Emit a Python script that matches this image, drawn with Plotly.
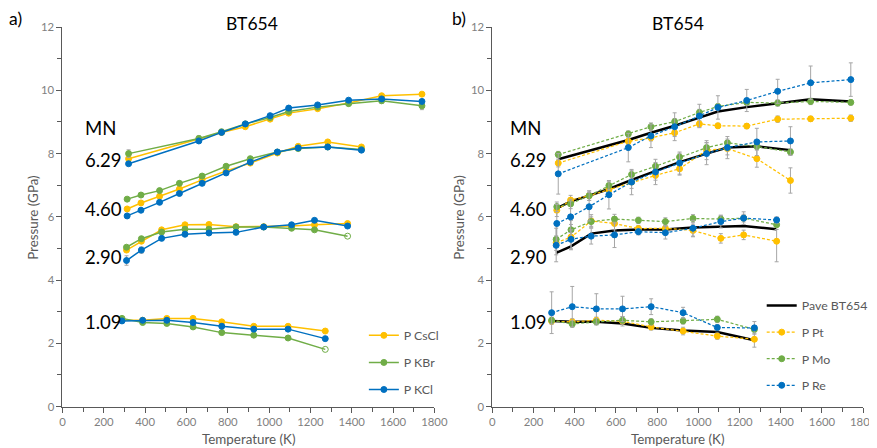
import plotly.graph_objects as go

# ---------------- data ----------------
T1 = [320, 660, 770, 885, 1005, 1095, 1235, 1385, 1545, 1740]
T2 = [313, 380, 470, 566, 676, 792, 909, 1040, 1141, 1284, 1447]
T3 = [310, 382, 480, 593, 709, 840, 974, 1109, 1220, 1380]
T4 = [288, 388, 505, 632, 771, 926, 1092, 1272]

MN_LABELS = ["MN", "6.29", "4.60", "2.90", "1.09"]

# panel a) pressure-medium salts
CSCL_1 = [7.84, 8.45, 8.67, 8.85, 9.09, 9.28, 9.42, 9.60, 9.83, 9.88]
KBR_1 = [8.00, 8.48, 8.69, 8.94, 9.14, 9.33, 9.47, 9.58, 9.67, 9.51]
KCL_1 = [7.68, 8.40, 8.67, 8.94, 9.20, 9.44, 9.54, 9.69, 9.73, 9.65]

CSCL_2 = [6.25, 6.44, 6.65, 6.88, 7.17, 7.45, 7.70, 8.02, 8.23, 8.37, 8.21]
KBR_2 = [6.56, 6.69, 6.83, 7.06, 7.29, 7.60, 7.84, 8.05, 8.16, 8.21, 8.13]
KCL_2 = [6.03, 6.21, 6.46, 6.74, 7.06, 7.39, 7.73, 8.05, 8.18, 8.21, 8.11]

CSCL_3 = [4.95, 5.23, 5.59, 5.75, 5.76, 5.69, 5.69, 5.71, 5.75, 5.79]
KBR_3 = [5.04, 5.31, 5.52, 5.61, 5.61, 5.68, 5.68, 5.64, 5.59, 5.39]
KCL_3 = [4.62, 4.95, 5.32, 5.45, 5.49, 5.51, 5.68, 5.75, 5.89, 5.71]

CSCL_4 = [2.73, 2.73, 2.79, 2.79, 2.68, 2.54, 2.54, 2.39]
KBR_4 = [2.79, 2.66, 2.63, 2.52, 2.34, 2.26, 2.17, 1.81]
KCL_4 = [2.71, 2.73, 2.73, 2.66, 2.54, 2.45, 2.45, 2.15]

ERR_KBR_1 = [0.12, 0.08, 0.08, 0.05, 0.05, 0.05, 0.05, 0.05, 0.08, 0.12]
ERR_KCL_3 = [0.15, 0.1, 0.05, 0.05, 0.05, 0.05, 0.05, 0.05, 0.05, 0.05]

# panel b) markers
PAVE_1 = [7.82, 8.43, 8.66, 8.88, 9.14, 9.33, 9.47, 9.60, 9.72, 9.65]
PT_1 = [7.70, 8.39, 8.50, 8.66, 8.94, 8.88, 8.87, 9.09, 9.10, 9.12]
MO_1 = [7.97, 8.62, 8.85, 9.01, 9.30, 9.49, 9.62, 9.60, 9.65, 9.62]
RE_1 = [7.36, 8.19, 8.56, 8.85, 9.19, 9.46, 9.68, 9.97, 10.24, 10.34]

PAVE_2 = [6.27, 6.49, 6.67, 6.88, 7.17, 7.44, 7.73, 8.00, 8.19, 8.23, 8.11]
PT_2 = [6.21, 6.53, 6.67, 6.86, 7.10, 7.31, 7.52, 8.11, 8.16, 7.84, 7.15]
MO_2 = [6.32, 6.41, 6.67, 6.99, 7.34, 7.60, 7.89, 8.19, 8.34, 8.23, 8.05]
RE_2 = [5.79, 6.00, 6.32, 6.70, 7.10, 7.42, 7.70, 8.00, 8.19, 8.37, 8.40]

PAVE_3 = [4.86, 5.07, 5.47, 5.57, 5.60, 5.60, 5.66, 5.68, 5.71, 5.61]
PT_3 = [5.18, 5.36, 5.87, 5.79, 5.63, 5.64, 5.57, 5.32, 5.43, 5.23]
MO_3 = [5.29, 5.59, 5.85, 5.93, 5.89, 5.85, 5.95, 5.93, 5.96, 5.75]
RE_3 = [5.10, 5.29, 5.39, 5.43, 5.53, 5.50, 5.64, 5.85, 5.96, 5.90]

PAVE_4 = [2.71, 2.68, 2.68, 2.63, 2.49, 2.41, 2.36, 2.10]
PT_4 = [2.70, 2.68, 2.73, 2.70, 2.52, 2.39, 2.23, 2.13]
MO_4 = [2.73, 2.61, 2.68, 2.73, 2.68, 2.71, 2.76, 2.44]
RE_4 = [2.97, 3.16, 3.09, 3.09, 3.16, 2.97, 2.50, 2.49]

ERR_RE_1 = [0.64, 0.45, 0.37, 0.44, 0.37, 0.37, 0.35, 0.38, 0.53, 0.53]
ERR_PT_1 = [0.12, 0.10, 0.10, 0.12, 0.10, 0.08, 0.08, 0.10, 0.08, 0.10]
ERR_MO_1 = [0.10, 0.10, 0.12, 0.10, 0.10, 0.08, 0.08, 0.10, 0.10, 0.08]
ERR_RE_2 = [0.60, 0.50, 0.45, 0.45, 0.40, 0.40, 0.35, 0.35, 0.35, 0.43, 0.45]
ERR_PT_2 = [0.20, 0.15, 0.15, 0.15, 0.20, 0.15, 0.20, 0.30, 0.20, 0.27, 0.40]
ERR_MO_2 = [0.15, 0.15, 0.15, 0.12, 0.12, 0.12, 0.12, 0.15, 0.12, 0.10, 0.10]
ERR_RE_3 = [0.30, 0.30, 0.25, 0.40, 0.10, 0.20, 0.25, 0.20, 0.20, 0.10]
ERR_PT_3 = [0.60, 0.40, 0.20, 0.20, 0.10, 0.10, 0.20, 0.15, 0.15, 0.65]
ERR_MO_3 = [0.35, 0.30, 0.15, 0.15, 0.10, 0.12, 0.12, 0.12, 0.12, 0.15]
ERR_RE_4 = [0.66, 0.64, 0.48, 0.40, 0.25, 0.17, 0.10, 0.20]
ERR_PT_4 = [0.10, 0.10, 0.10, 0.15, 0.10, 0.12, 0.10, 0.25]
ERR_MO_4 = [0.10, 0.10, 0.10, 0.12, 0.10, 0.10, 0.10, 0.12]

# ---------------- style ----------------
W, H = 877, 448
# the photographed page shows the figure slightly offset and shrunk;
# layout positions below are given in photographed pixels and mapped back.
OX, SX = 10.0, 0.981
OY, SY = 16.0, 0.962
FS = 1.03  # font compensation for the shrink
FONT = "Lato"
YEL, GRN, BLU = "#FFC000", "#70AD47", "#0070C0"
ERRC = "#A6A6A6"


def px(x):
    return ((x - OX) / SX) / W


def py(y):
    return 1 - ((y - OY) / SY) / H


fig = go.Figure()


def add(xs, ys, color, name, panel, legend_show, err=None, dash=None,
        width=1.5, mode="lines+markers", open_last=False):
    xa, ya = ("x", "y") if panel == 1 else ("x2", "y2")
    sym = ["circle"] * len(xs)
    if open_last:
        sym[-1] = "circle-open"
    tr = dict(
        x=xs, y=ys, mode=mode, name=name, legendgroup=name,
        showlegend=legend_show, legend="legend" if panel == 1 else "legend2",
        xaxis=xa, yaxis=ya,
        line=dict(color=color, width=width, dash=dash),
        marker=dict(size=6, color=color, symbol=sym, line=dict(width=1, color=color)),
    )
    if err is not None:
        tr["error_y"] = dict(type="data", array=err, color=ERRC, thickness=1, width=2)
    fig.add_trace(go.Scatter(**tr))


Ts = [T1, T2, T3, T4]
# panel a
for i, (ys, T) in enumerate(zip([CSCL_1, CSCL_2, CSCL_3, CSCL_4], Ts)):
    add(T, ys, YEL, "P CsCl", 1, i == 0)
for i, (ys, T) in enumerate(zip([KBR_1, KBR_2, KBR_3, KBR_4], Ts)):
    add(T, ys, GRN, "P KBr", 1, i == 0, err=ERR_KBR_1 if i == 0 else None,
        open_last=(i >= 2))
for i, (ys, T) in enumerate(zip([KCL_1, KCL_2, KCL_3, KCL_4], Ts)):
    add(T, ys, BLU, "P KCl", 1, i == 0, err=ERR_KCL_3 if i == 2 else None)

# panel b
DASH = "3px,2px"
for i, (ys, T) in enumerate(zip([PAVE_1, PAVE_2, PAVE_3, PAVE_4], Ts)):
    add(T, ys, "#000000", "Pave BT654", 2, i == 0, width=2.5, mode="lines")
for i, (ys, T, e) in enumerate(zip([PT_1, PT_2, PT_3, PT_4], Ts,
                                   [ERR_PT_1, ERR_PT_2, ERR_PT_3, ERR_PT_4])):
    add(T, ys, YEL, "P Pt", 2, i == 0, err=e, dash=DASH, width=1.25)
for i, (ys, T, e) in enumerate(zip([MO_1, MO_2, MO_3, MO_4], Ts,
                                   [ERR_MO_1, ERR_MO_2, ERR_MO_3, ERR_MO_4])):
    add(T, ys, GRN, "P Mo", 2, i == 0, err=e, dash=DASH, width=1.25)
for i, (ys, T, e) in enumerate(zip([RE_1, RE_2, RE_3, RE_4], Ts,
                                   [ERR_RE_1, ERR_RE_2, ERR_RE_3, ERR_RE_4])):
    add(T, ys, BLU, "P Re", 2, i == 0, err=e, dash=DASH, width=1.25)

AXC = "#595959"
TICKF = dict(family=FONT, size=11 * FS, color="#7F7F7F")
xcommon = dict(range=[0, 1800], dtick=200, tick0=0, showgrid=False, zeroline=False,
               showline=True, linecolor=AXC, linewidth=1, ticks="outside",
               ticklen=5, tickcolor=AXC, tickfont=TICKF, fixedrange=True,
               minor=dict(dtick=100, ticks="outside", ticklen=4, tickcolor=AXC))
ycommon = dict(range=[0, 12], dtick=2, tick0=0, showgrid=False, zeroline=False,
               showline=True, linecolor=AXC, linewidth=1, ticks="outside",
               ticklen=5, tickcolor=AXC, tickfont=TICKF, fixedrange=True,
               minor=dict(dtick=1, ticks="outside", ticklen=4, tickcolor=AXC))

YD = [py(404), py(28)]
fig.update_layout(
    width=W, height=H,
    margin=dict(l=0, r=0, t=0, b=0),
    paper_bgcolor="white", plot_bgcolor="white",
    font=dict(family=FONT, color="#000000"),
    xaxis=dict(domain=[px(61.5), px(433.5)], anchor="y", **xcommon),
    yaxis=dict(domain=YD, anchor="x", **ycommon),
    xaxis2=dict(domain=[px(491.5), px(862.5)], anchor="y2", **xcommon),
    yaxis2=dict(domain=YD, anchor="x2", **ycommon),
    legend=dict(x=px(363), y=py(319), xanchor="left", yanchor="top",
                font=dict(family=FONT, size=12 * FS, color=AXC),
                bgcolor="rgba(0,0,0,0)", traceorder="grouped",
                tracegroupgap=8),
    legend2=dict(x=px(761), y=py(289.5), xanchor="left", yanchor="top",
                 font=dict(family=FONT, size=12 * FS, color=AXC),
                 bgcolor="rgba(0,0,0,0)", traceorder="grouped",
                 tracegroupgap=7.5),
    showlegend=True,
)

ann = []
# panel letters and titles
ann.append(dict(text="a)", x=px(15), y=py(19), font=dict(size=17)))
ann.append(dict(text="b)", x=px(458), y=py(19), font=dict(size=17)))
ann.append(dict(text="BT654", x=px(251), y=py(24), font=dict(size=17)))
ann.append(dict(text="BT654", x=px(677), y=py(24), font=dict(size=17)))
# axis titles
for xc in (248, 677):
    ann.append(dict(text="Temperature (K)", x=px(xc), y=py(436),
                    font=dict(size=13, color=AXC)))
for xc in (32, 458):
    ann.append(dict(text="Pressure (GPa)", x=px(xc), y=py(216), textangle=-90,
                    font=dict(size=13, color=AXC)))
# MN labels
LBL_Y = [128, 160, 208, 256, 320]
for xl in (82, 507):
    for t, yy in zip(MN_LABELS, LBL_Y):
        ann.append(dict(text=t, x=px(xl), y=py(yy), xanchor="left",
                        font=dict(size=18)))
for a in ann:
    a.setdefault("xanchor", "center")
    a.update(xref="paper", yref="paper", yanchor="middle", showarrow=False)
    a["font"].setdefault("color", "#000000")
    a["font"]["family"] = FONT
    a["font"]["size"] = a["font"]["size"] * FS
fig.update_layout(annotations=ann)

fig.write_html("out.html")
